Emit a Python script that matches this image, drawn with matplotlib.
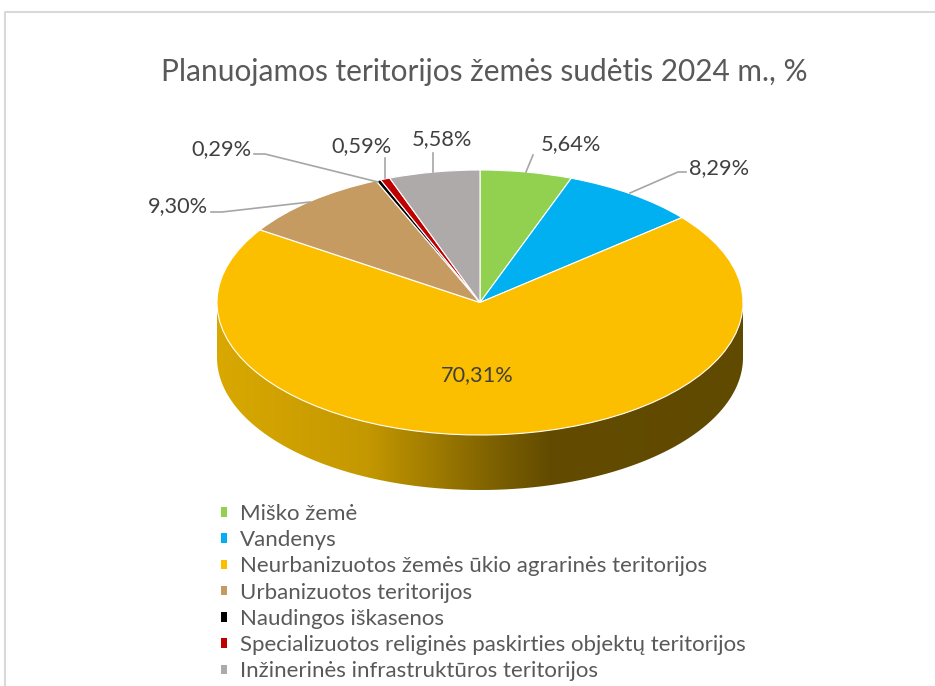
import numpy as np
import matplotlib
matplotlib.use('Agg')
import matplotlib.pyplot as plt
from matplotlib.colors import LinearSegmentedColormap
from matplotlib.patches import Polygon

plt.rcParams['font.family'] = ['Lato', 'DejaVu Sans']

categories = ['Miško žemė', 'Vandenys', 'Neurbanizuotos žemės ūkio agrarinės teritorijos',
              'Urbanizuotos teritorijos', 'Naudingos iškasenos',
              'Specializuotos religinės paskirties objektų teritorijos',
              'Inžinerinės infrastruktūros teritorijos']
values = [5.64, 8.29, 70.31, 9.30, 0.29, 0.59, 5.58]
value_labels = ['5,64%', '8,29%', '70,31%', '9,30%', '0,29%', '0,59%', '5,58%']
colors = ['#92d050', '#00b0f0', '#fcbf00', '#c59b62', '#000000', '#c00000', '#aeaaaa']

W, H = 935, 686
CX, CY, RX, RY, DEPTH = 480, 302.5, 263, 132.5, 55


def px(x, y):
    # picture pixels to pie units
    return (x - CX) / RX, (CY - y) / RY


fig = plt.figure(figsize=(W / 100, H / 100), dpi=100)
ax = fig.add_axes([0, 0, 1, 1])

wedges, _ = ax.pie(values, colors=colors, startangle=90, counterclock=False,
                   wedgeprops={'edgecolor': 'white', 'linewidth': 0.8, 'zorder': 3})

x0, y1 = px(0, 0)
x1, y0 = px(W, H)

# side wall of the disc, shaded left to right
wall_cmap = LinearSegmentedColormap.from_list('wall', [
    (0.0, '#d9a800'), (0.285, '#c49800'), (0.41, '#a07c00'),
    (0.54, '#7a5e00'), (0.63, '#634c00'), (1.0, '#604a00')])
t = np.linspace(-np.pi, 0, 200)
d = DEPTH / RY
rim = np.column_stack([np.cos(t), np.sin(t) - d])
outline = np.vstack([[[-1, 0]], rim, [[1, 0]]])
clip = Polygon(outline, closed=True, transform=ax.transData, fc='none', ec='none')
ax.add_patch(clip)
img = ax.imshow(np.linspace(0, 1, 256)[None, :], cmap=wall_cmap, extent=(-1, 1, -1 - d, 0),
                aspect='auto', zorder=1)
img.set_clip_path(clip)

ax.set_xlim(x0, x1)
ax.set_ylim(y0, y1)
ax.set_aspect('auto')
ax.axis('off')

# picture frame, open on the right
frame_x, frame_y = zip(*[px(5.5, 686), px(5.5, 11.5), px(935, 11.5)])
ax.plot(frame_x, frame_y, color='#d9d9d9', lw=1.5, zorder=0, clip_on=False)

# leader lines
leaders = [[(526, 172), (533, 155)],
           [(630, 193), (678, 172), (686, 172)],
           [(310, 202), (222, 212), (211, 212)],
           [(378, 182), (265, 154), (254, 154)],
           [(385, 178), (385, 158)],
           [(433, 172), (433, 153)]]
for pts in leaders:
    lx, ly = zip(*[px(*p) for p in pts])
    ax.plot(lx, ly, color='#a6a6a6', lw=1.2, zorder=4)

# data labels
label_pos = [(571, 144), (719, 168), (477, 375), (178, 206), (221, 149), (362, 146), (442, 139)]
for text, pos in zip(value_labels, label_pos):
    lx, ly = px(*pos)
    ax.text(lx, ly, text, ha='center', va='center', fontsize=15.7, color='#404040', zorder=5)

tx, ty = px(484.5, 72)
ax.text(tx, ty, 'Planuojamos teritorijos žemės sudėtis 2024 m., %', ha='center', va='center',
        fontsize=21.5, color='#595959')

leg = ax.legend(wedges, categories, loc='upper left', bbox_to_anchor=(221 / W, 1 - 504 / H),
                frameon=False, fontsize=16, labelcolor='#595959', handlelength=0.28,
                handleheight=0.28, handletextpad=0.58, labelspacing=0.28,
                borderpad=0, borderaxespad=0)
for h in leg.legend_handles:
    h.set_linewidth(0)

fig.savefig('out.png', dpi=100)
